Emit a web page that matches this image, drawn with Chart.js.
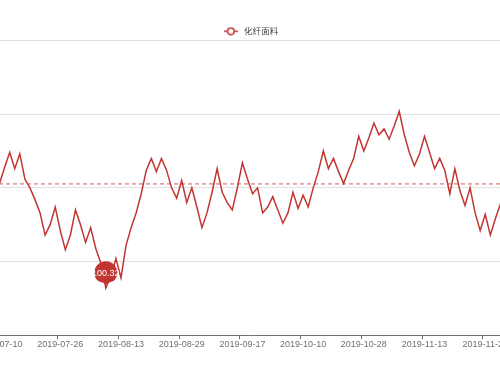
<!DOCTYPE html>
<html>
<head>
<meta charset="utf-8">
<script src="https://cdn.jsdelivr.net/npm/chart.js@4/dist/chart.umd.min.js"></script>
<style>
  html, body { margin: 0; padding: 0; background: #fff; overflow: hidden; }
  body { width: 500px; height: 375px; position: relative; }
  #chart { position: absolute; left: -8px; top: 0; }
</style>
</head>
<body>
<canvas id="chart" width="516" height="375"></canvas>
<script>
// 化纤面料 index, trading days
const dates = [
  "2019-07-09", "2019-07-10", "2019-07-11", "2019-07-12", "2019-07-15", "2019-07-16", "2019-07-17", "2019-07-18",
  "2019-07-19", "2019-07-22", "2019-07-23", "2019-07-24", "2019-07-25", "2019-07-26", "2019-07-29", "2019-07-30",
  "2019-07-31", "2019-08-01", "2019-08-02", "2019-08-05", "2019-08-06", "2019-08-07", "2019-08-08", "2019-08-09",
  "2019-08-12", "2019-08-13", "2019-08-14", "2019-08-15", "2019-08-16", "2019-08-19", "2019-08-20", "2019-08-21",
  "2019-08-22", "2019-08-23", "2019-08-26", "2019-08-27", "2019-08-28", "2019-08-29", "2019-08-30", "2019-09-02",
  "2019-09-03", "2019-09-04", "2019-09-05", "2019-09-06", "2019-09-09", "2019-09-10", "2019-09-11", "2019-09-12",
  "2019-09-16", "2019-09-17", "2019-09-18", "2019-09-19", "2019-09-20", "2019-09-23", "2019-09-24", "2019-09-25",
  "2019-09-26", "2019-09-27", "2019-09-30", "2019-10-08", "2019-10-09", "2019-10-10", "2019-10-11", "2019-10-14",
  "2019-10-15", "2019-10-16", "2019-10-17", "2019-10-18", "2019-10-21", "2019-10-22", "2019-10-23", "2019-10-24",
  "2019-10-25", "2019-10-28", "2019-10-29", "2019-10-30", "2019-10-31", "2019-11-01", "2019-11-04", "2019-11-05",
  "2019-11-06", "2019-11-07", "2019-11-08", "2019-11-11", "2019-11-12", "2019-11-13", "2019-11-14", "2019-11-15",
  "2019-11-18", "2019-11-19", "2019-11-20", "2019-11-21", "2019-11-22", "2019-11-25", "2019-11-26", "2019-11-27",
  "2019-11-28", "2019-11-29", "2019-12-02", "2019-12-03", "2019-12-04", "2019-12-05"
];

const fabricIndex = [
  100.98, 101.03, 101.14, 101.24, 101.13, 101.23, 101.06, 101.00,
  100.92, 100.83, 100.68, 100.75, 100.87, 100.71, 100.58, 100.68,
  100.85, 100.75, 100.63, 100.73, 100.59, 100.49, 100.32, 100.40,
  100.52, 100.39, 100.61, 100.73, 100.83, 100.96, 101.12, 101.20,
  101.11, 101.20, 101.12, 101.00, 100.93, 101.05, 100.90, 101.00,
  100.87, 100.73, 100.83, 100.97, 101.13, 100.97, 100.90, 100.85,
  101.00, 101.17, 101.06, 100.96, 101.00, 100.83, 100.87, 100.94,
  100.85, 100.76, 100.83, 100.97, 100.86, 100.95, 100.87, 101.00,
  101.11, 101.25, 101.13, 101.20, 101.11, 101.03, 101.12, 101.20,
  101.35, 101.25, 101.34, 101.44, 101.36, 101.40, 101.33, 101.42,
  101.52, 101.36, 101.24, 101.15, 101.23, 101.35, 101.24, 101.13,
  101.20, 101.12, 100.96, 101.13, 100.98, 100.88, 101.00, 100.83,
  100.71, 100.82, 100.68, 100.79, 100.89, 100.98
];

const averageLine = [101.03];
const yTicks = [100, 100.5, 101, 101.5, 102];

const RED = "#c23531";
const LABEL_EVERY = 12;
const LABEL_START = 1; // 2019-07-10

function isLabelIndex(i) {
  return i >= LABEL_START && (i - LABEL_START) % LABEL_EVERY === 0;
}

// legend icon: short line with hollow circle
function legendIcon() {
  const c = document.createElement("canvas");
  c.width = 14;
  c.height = 9;
  const g = c.getContext("2d");
  g.strokeStyle = RED;
  g.lineWidth = 1.5;
  g.beginPath();
  g.moveTo(0, 4.5);
  g.lineTo(14, 4.5);
  g.stroke();
  g.fillStyle = "#fff";
  g.beginPath();
  g.arc(7, 4.5, 3.3, 0, Math.PI * 2);
  g.fill();
  g.stroke();
  return c;
}

// pull the plot area up closer to the legend
const legendGap = {
  id: "legendGap",
  beforeLayout(chart) {
    const lg = chart.legend;
    if (lg && !lg._gapPatched) {
      const fit = lg.fit;
      lg.fit = function () {
        fit.call(this);
        this.height = Math.max(0, this.height - 5);
      };
      lg._gapPatched = true;
    }
  }
};

// average dashed line + min pin
const markPlugin = {
  id: "marks",
  afterDatasetsDraw(chart) {
    const { ctx, chartArea, scales } = chart;
    const data = chart.data.datasets[0].data;

    ctx.save();
    const ay = scales.y.getPixelForValue(averageLine[0]);
    ctx.strokeStyle = RED;
    ctx.globalAlpha = 0.8;
    ctx.lineWidth = 1;
    ctx.setLineDash([4, 3]);
    ctx.beginPath();
    ctx.moveTo(chartArea.left, ay + 0.5);
    ctx.lineTo(chartArea.right, ay + 0.5);
    ctx.stroke();
    ctx.restore();

    let minIdx = 0;
    data.forEach((v, i) => { if (v < data[minIdx]) minIdx = i; });
    const x = scales.x.getPixelForValue(minIdx);
    const y = scales.y.getPixelForValue(data[minIdx]);

    // pin shape
    const r = 11.5;
    const h = 33;
    const dy = r * r / (h - r);
    const cy = y - h + r + dy;
    const angle = Math.asin(dy / r);
    const dx = Math.cos(angle) * r;
    const tanX = Math.sin(angle);
    const tanY = Math.cos(angle);
    const cpLen = r * 0.6;
    const cpLen2 = r * 0.7;

    ctx.save();
    ctx.fillStyle = RED;
    ctx.beginPath();
    ctx.moveTo(x - dx, cy + dy);
    ctx.arc(x, cy, r, Math.PI - angle, Math.PI * 2 + angle);
    ctx.bezierCurveTo(x + dx - tanX * cpLen, cy + dy + tanY * cpLen, x, y - cpLen2, x, y);
    ctx.bezierCurveTo(x, y - cpLen2, x - dx + tanX * cpLen, cy + dy + tanY * cpLen, x - dx, cy + dy);
    ctx.closePath();
    ctx.fill();

    ctx.fillStyle = "#fff";
    ctx.font = "9px 'Liberation Sans', Arial, sans-serif";
    ctx.textAlign = "center";
    ctx.textBaseline = "middle";
    ctx.fillText(data[minIdx].toFixed(2), x, cy + 1);
    ctx.restore();
  }
};

new Chart(document.getElementById("chart"), {
  type: "line",
  data: {
    labels: dates,
    datasets: [{
      label: "化纤面料",
      data: fabricIndex,
      borderColor: RED,
      backgroundColor: "#fff",
      borderWidth: 1.5,
      pointRadius: 0,
      pointHoverRadius: 0,
      tension: 0
    }]
  },
  options: {
    responsive: false,
    animation: false,
    events: [],
    layout: { padding: { top: 27, bottom: 25, left: 0, right: 0 } },
    plugins: {
      tooltip: { enabled: false },
      legend: {
        display: true,
        position: "top",
        align: "center",
        labels: {
          usePointStyle: true,
          pointStyle: legendIcon(),
          pointStyleWidth: 18,
          boxHeight: 9,
          padding: 0,
          color: "#444",
          font: { family: "'Noto Sans CJK SC', sans-serif", size: 8.5 }
        }
      }
    },
    scales: {
      x: {
        type: "category",
        offset: true,
        grid: {
          offset: true,
          drawOnChartArea: false,
          drawTicks: true,
          tickLength: 4,
          color: (c) => isLabelIndex(c.index) ? "#6e7079" : "rgba(0,0,0,0)"
        },
        border: { display: true, color: "#6e7079", width: 1 },
        ticks: {
          autoSkip: false,
          maxRotation: 0,
          padding: 0,
          color: "#6e7079",
          font: { family: "'Liberation Sans', Arial, sans-serif", size: 9 },
          callback: function (value, index) {
            return isLabelIndex(index) ? dates[index] : "";
          }
        }
      },
      y: {
        min: yTicks[0],
        max: yTicks[yTicks.length - 1],
        afterBuildTicks: (axis) => { axis.ticks = yTicks.map(v => ({ value: v })); },
        grid: { color: "#e0e0e0", drawTicks: false },
        border: { display: false },
        ticks: { display: false }
      }
    }
  },
  plugins: [legendGap, markPlugin]
});
</script>
</body>
</html>
